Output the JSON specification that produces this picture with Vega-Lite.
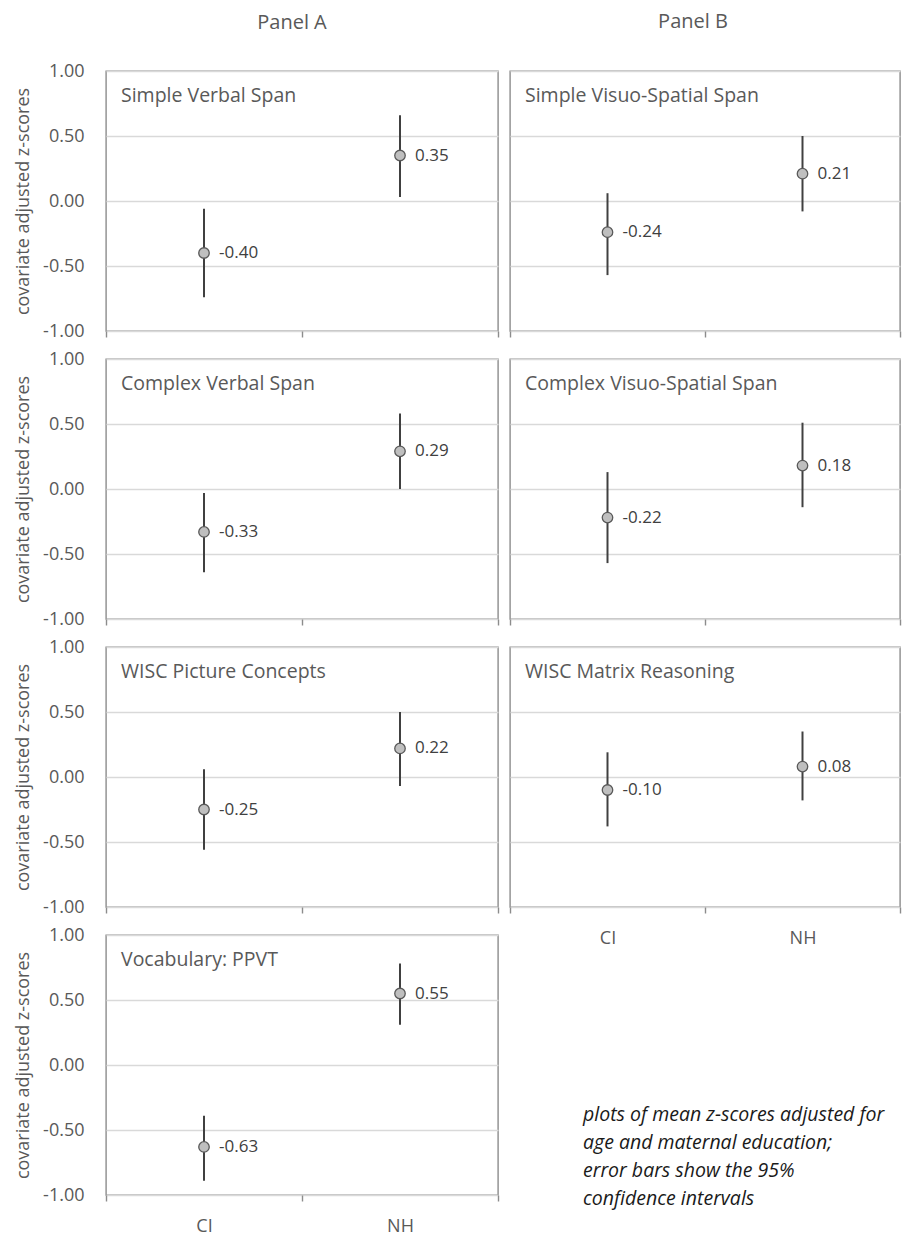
{
  "$schema": "https://vega.github.io/schema/vega-lite/v6.json",
  "padding": {"left": 13, "top": 11, "right": 0, "bottom": 0},
  "background": "white",
  "config": {
    "font": "Open Sans",
    "locale": {"number": {"decimal": ".", "thousands": ",", "grouping": [3], "currency": ["$", ""], "minus": "-"}},
    "view": {"stroke": "#8c8c8c", "strokeWidth": 1.4},
    "axisX": {"domain": false, "grid": false, "ticks": true, "tickBand": "extent", "tickSize": 6, "tickColor": "#8c8c8c", "tickWidth": 1.4, "labelFontSize": 18, "labelColor": "#595959", "labelPadding": 16, "labelAngle": 0},
    "axisY": {"domain": false, "ticks": false, "grid": true, "gridColor": "#d9d9d9", "gridWidth": 1.3, "tickCount": 5, "format": ".2f", "labelFontSize": 18, "labelColor": "#595959", "labelPadding": 22, "titleFontSize": 18, "titleFontWeight": "normal", "titleColor": "#595959", "titlePadding": 10},
    "title": {"fontSize": 20, "fontWeight": "normal", "color": "#595959", "anchor": "middle", "frame": "group"}
  },
  "datasets": {
    "d": [
      {"test": "Simple Verbal Span", "group": "CI", "mean": -0.40, "lo": -0.74, "hi": -0.06},
      {"test": "Simple Verbal Span", "group": "NH", "mean": 0.35, "lo": 0.03, "hi": 0.66},
      {"test": "Simple Visuo-Spatial Span", "group": "CI", "mean": -0.24, "lo": -0.57, "hi": 0.06},
      {"test": "Simple Visuo-Spatial Span", "group": "NH", "mean": 0.21, "lo": -0.08, "hi": 0.50},
      {"test": "Complex Verbal Span", "group": "CI", "mean": -0.33, "lo": -0.64, "hi": -0.03},
      {"test": "Complex Verbal Span", "group": "NH", "mean": 0.29, "lo": 0.00, "hi": 0.58},
      {"test": "Complex Visuo-Spatial Span", "group": "CI", "mean": -0.22, "lo": -0.57, "hi": 0.13},
      {"test": "Complex Visuo-Spatial Span", "group": "NH", "mean": 0.18, "lo": -0.14, "hi": 0.51},
      {"test": "WISC Picture Concepts", "group": "CI", "mean": -0.25, "lo": -0.56, "hi": 0.06},
      {"test": "WISC Picture Concepts", "group": "NH", "mean": 0.22, "lo": -0.07, "hi": 0.50},
      {"test": "WISC Matrix Reasoning", "group": "CI", "mean": -0.10, "lo": -0.38, "hi": 0.19},
      {"test": "WISC Matrix Reasoning", "group": "NH", "mean": 0.08, "lo": -0.18, "hi": 0.35},
      {"test": "Vocabulary: PPVT", "group": "CI", "mean": -0.63, "lo": -0.89, "hi": -0.39},
      {"test": "Vocabulary: PPVT", "group": "NH", "mean": 0.55, "lo": 0.31, "hi": 0.78}
    ],
    "note": [
      {"t": "plots of mean z-scores adjusted for\nage and maternal education;\nerror bars show the 95%\nconfidence intervals"}
    ]
  },
  "spacing": 8,
  "hconcat": [
    {
      "spacing": 28,
      "bounds": "flush",
      "vconcat": [
        {
          "title": {"text": "Panel A", "dx": -10, "offset": 29},
          "width": 392, "height": 260,
          "data": {"name": "d"},
          "transform": [{"filter": "datum.test === 'Simple Verbal Span'"}],
          "encoding": {
            "x": {"field": "group", "type": "nominal", "title": null, "scale": {"domain": ["CI", "NH"], "paddingInner": 0, "paddingOuter": 0}, "axis": {"labels": false}},
            "y": {"field": "mean", "type": "quantitative", "scale": {"domain": [-1, 1]}, "axis": {"title": "covariate adjusted z-scores"}}
          },
          "layer": [
            {"mark": {"type": "rule", "color": "#404040", "strokeWidth": 2}, "encoding": {"y": {"field": "lo", "type": "quantitative", "scale": {"domain": [-1, 1]}, "axis": {"title": "covariate adjusted z-scores"}}, "y2": {"field": "hi"}}},
            {"mark": {"type": "point", "filled": true, "size": 110, "fill": "#bfbfbf", "stroke": "#595959", "strokeWidth": 1.3, "opacity": 1}},
            {"mark": {"type": "text", "align": "left", "baseline": "middle", "dx": 15, "fontSize": 17, "color": "#404040"}, "encoding": {"text": {"field": "mean", "type": "quantitative", "format": ".2f"}}},
            {"transform": [{"filter": "datum.group === 'CI'"}], "mark": {"type": "text", "align": "left", "baseline": "middle", "dx": 15, "fontSize": 19.5, "color": "#595959"}, "encoding": {"x": {"datum": "CI", "type": "nominal", "bandPosition": 0}, "y": {"datum": 0.81, "type": "quantitative"}, "text": {"field": "test"}}}
          ]
        },
        {
          "width": 392, "height": 260,
          "data": {"name": "d"},
          "transform": [{"filter": "datum.test === 'Complex Verbal Span'"}],
          "encoding": {
            "x": {"field": "group", "type": "nominal", "title": null, "scale": {"domain": ["CI", "NH"], "paddingInner": 0, "paddingOuter": 0}, "axis": {"labels": false}},
            "y": {"field": "mean", "type": "quantitative", "scale": {"domain": [-1, 1]}, "axis": {"title": "covariate adjusted z-scores"}}
          },
          "layer": [
            {"mark": {"type": "rule", "color": "#404040", "strokeWidth": 2}, "encoding": {"y": {"field": "lo", "type": "quantitative", "scale": {"domain": [-1, 1]}, "axis": {"title": "covariate adjusted z-scores"}}, "y2": {"field": "hi"}}},
            {"mark": {"type": "point", "filled": true, "size": 110, "fill": "#bfbfbf", "stroke": "#595959", "strokeWidth": 1.3, "opacity": 1}},
            {"mark": {"type": "text", "align": "left", "baseline": "middle", "dx": 15, "fontSize": 17, "color": "#404040"}, "encoding": {"text": {"field": "mean", "type": "quantitative", "format": ".2f"}}},
            {"transform": [{"filter": "datum.group === 'CI'"}], "mark": {"type": "text", "align": "left", "baseline": "middle", "dx": 15, "fontSize": 19.5, "color": "#595959"}, "encoding": {"x": {"datum": "CI", "type": "nominal", "bandPosition": 0}, "y": {"datum": 0.81, "type": "quantitative"}, "text": {"field": "test"}}}
          ]
        },
        {
          "width": 392, "height": 260,
          "data": {"name": "d"},
          "transform": [{"filter": "datum.test === 'WISC Picture Concepts'"}],
          "encoding": {
            "x": {"field": "group", "type": "nominal", "title": null, "scale": {"domain": ["CI", "NH"], "paddingInner": 0, "paddingOuter": 0}, "axis": {"labels": false}},
            "y": {"field": "mean", "type": "quantitative", "scale": {"domain": [-1, 1]}, "axis": {"title": "covariate adjusted z-scores"}}
          },
          "layer": [
            {"mark": {"type": "rule", "color": "#404040", "strokeWidth": 2}, "encoding": {"y": {"field": "lo", "type": "quantitative", "scale": {"domain": [-1, 1]}, "axis": {"title": "covariate adjusted z-scores"}}, "y2": {"field": "hi"}}},
            {"mark": {"type": "point", "filled": true, "size": 110, "fill": "#bfbfbf", "stroke": "#595959", "strokeWidth": 1.3, "opacity": 1}},
            {"mark": {"type": "text", "align": "left", "baseline": "middle", "dx": 15, "fontSize": 17, "color": "#404040"}, "encoding": {"text": {"field": "mean", "type": "quantitative", "format": ".2f"}}},
            {"transform": [{"filter": "datum.group === 'CI'"}], "mark": {"type": "text", "align": "left", "baseline": "middle", "dx": 15, "fontSize": 19.5, "color": "#595959"}, "encoding": {"x": {"datum": "CI", "type": "nominal", "bandPosition": 0}, "y": {"datum": 0.81, "type": "quantitative"}, "text": {"field": "test"}}}
          ]
        },
        {
          "width": 392, "height": 260,
          "data": {"name": "d"},
          "transform": [{"filter": "datum.test === 'Vocabulary: PPVT'"}],
          "encoding": {
            "x": {"field": "group", "type": "nominal", "title": null, "scale": {"domain": ["CI", "NH"], "paddingInner": 0, "paddingOuter": 0}},
            "y": {"field": "mean", "type": "quantitative", "scale": {"domain": [-1, 1]}, "axis": {"title": "covariate adjusted z-scores"}}
          },
          "layer": [
            {"mark": {"type": "rule", "color": "#404040", "strokeWidth": 2}, "encoding": {"y": {"field": "lo", "type": "quantitative", "scale": {"domain": [-1, 1]}, "axis": {"title": "covariate adjusted z-scores"}}, "y2": {"field": "hi"}}},
            {"mark": {"type": "point", "filled": true, "size": 110, "fill": "#bfbfbf", "stroke": "#595959", "strokeWidth": 1.3, "opacity": 1}},
            {"mark": {"type": "text", "align": "left", "baseline": "middle", "dx": 15, "fontSize": 17, "color": "#404040"}, "encoding": {"text": {"field": "mean", "type": "quantitative", "format": ".2f"}}},
            {"transform": [{"filter": "datum.group === 'CI'"}], "mark": {"type": "text", "align": "left", "baseline": "middle", "dx": 15, "fontSize": 19.5, "color": "#595959"}, "encoding": {"x": {"datum": "CI", "type": "nominal", "bandPosition": 0}, "y": {"datum": 0.81, "type": "quantitative"}, "text": {"field": "test"}}}
          ]
        }
      ]
    },
    {
      "spacing": 28,
      "bounds": "flush",
      "vconcat": [
        {
          "title": {"text": "Panel B", "dx": -12, "offset": 39},
          "width": 390, "height": 260,
          "data": {"name": "d"},
          "transform": [{"filter": "datum.test === 'Simple Visuo-Spatial Span'"}],
          "encoding": {
            "x": {"field": "group", "type": "nominal", "title": null, "scale": {"domain": ["CI", "NH"], "paddingInner": 0, "paddingOuter": 0}, "axis": {"labels": false}},
            "y": {"field": "mean", "type": "quantitative", "scale": {"domain": [-1, 1]}, "axis": {"title": null, "labels": false}}
          },
          "layer": [
            {"mark": {"type": "rule", "color": "#404040", "strokeWidth": 2}, "encoding": {"y": {"field": "lo", "type": "quantitative", "scale": {"domain": [-1, 1]}, "axis": {"title": null, "labels": false}}, "y2": {"field": "hi"}}},
            {"mark": {"type": "point", "filled": true, "size": 110, "fill": "#bfbfbf", "stroke": "#595959", "strokeWidth": 1.3, "opacity": 1}},
            {"mark": {"type": "text", "align": "left", "baseline": "middle", "dx": 15, "fontSize": 17, "color": "#404040"}, "encoding": {"text": {"field": "mean", "type": "quantitative", "format": ".2f"}}},
            {"transform": [{"filter": "datum.group === 'CI'"}], "mark": {"type": "text", "align": "left", "baseline": "middle", "dx": 15, "fontSize": 19.5, "color": "#595959"}, "encoding": {"x": {"datum": "CI", "type": "nominal", "bandPosition": 0}, "y": {"datum": 0.81, "type": "quantitative"}, "text": {"field": "test"}}}
          ]
        },
        {
          "width": 390, "height": 260,
          "data": {"name": "d"},
          "transform": [{"filter": "datum.test === 'Complex Visuo-Spatial Span'"}],
          "encoding": {
            "x": {"field": "group", "type": "nominal", "title": null, "scale": {"domain": ["CI", "NH"], "paddingInner": 0, "paddingOuter": 0}, "axis": {"labels": false}},
            "y": {"field": "mean", "type": "quantitative", "scale": {"domain": [-1, 1]}, "axis": {"title": null, "labels": false}}
          },
          "layer": [
            {"mark": {"type": "rule", "color": "#404040", "strokeWidth": 2}, "encoding": {"y": {"field": "lo", "type": "quantitative", "scale": {"domain": [-1, 1]}, "axis": {"title": null, "labels": false}}, "y2": {"field": "hi"}}},
            {"mark": {"type": "point", "filled": true, "size": 110, "fill": "#bfbfbf", "stroke": "#595959", "strokeWidth": 1.3, "opacity": 1}},
            {"mark": {"type": "text", "align": "left", "baseline": "middle", "dx": 15, "fontSize": 17, "color": "#404040"}, "encoding": {"text": {"field": "mean", "type": "quantitative", "format": ".2f"}}},
            {"transform": [{"filter": "datum.group === 'CI'"}], "mark": {"type": "text", "align": "left", "baseline": "middle", "dx": 15, "fontSize": 19.5, "color": "#595959"}, "encoding": {"x": {"datum": "CI", "type": "nominal", "bandPosition": 0}, "y": {"datum": 0.81, "type": "quantitative"}, "text": {"field": "test"}}}
          ]
        },
        {
          "width": 390, "height": 260,
          "data": {"name": "d"},
          "transform": [{"filter": "datum.test === 'WISC Matrix Reasoning'"}],
          "encoding": {
            "x": {"field": "group", "type": "nominal", "title": null, "scale": {"domain": ["CI", "NH"], "paddingInner": 0, "paddingOuter": 0}},
            "y": {"field": "mean", "type": "quantitative", "scale": {"domain": [-1, 1]}, "axis": {"title": null, "labels": false}}
          },
          "layer": [
            {"mark": {"type": "rule", "color": "#404040", "strokeWidth": 2}, "encoding": {"y": {"field": "lo", "type": "quantitative", "scale": {"domain": [-1, 1]}, "axis": {"title": null, "labels": false}}, "y2": {"field": "hi"}}},
            {"mark": {"type": "point", "filled": true, "size": 110, "fill": "#bfbfbf", "stroke": "#595959", "strokeWidth": 1.3, "opacity": 1}},
            {"mark": {"type": "text", "align": "left", "baseline": "middle", "dx": 15, "fontSize": 17, "color": "#404040"}, "encoding": {"text": {"field": "mean", "type": "quantitative", "format": ".2f"}}},
            {"transform": [{"filter": "datum.group === 'CI'"}], "mark": {"type": "text", "align": "left", "baseline": "middle", "dx": 15, "fontSize": 19.5, "color": "#595959"}, "encoding": {"x": {"datum": "CI", "type": "nominal", "bandPosition": 0}, "y": {"datum": 0.81, "type": "quantitative"}, "text": {"field": "test"}}}
          ]
        },
        {
          "width": 390, "height": 220,
          "view": {"stroke": null},
          "data": {"name": "note"},
          "mark": {"type": "text", "align": "left", "baseline": "middle", "lineBreak": "\n", "fontStyle": "italic", "fontSize": 19.5, "lineHeight": 28, "color": "#1a1a1a", "dx": -122, "dy": 70},
          "encoding": {"text": {"field": "t"}}
        }
      ]
    }
  ]
}
